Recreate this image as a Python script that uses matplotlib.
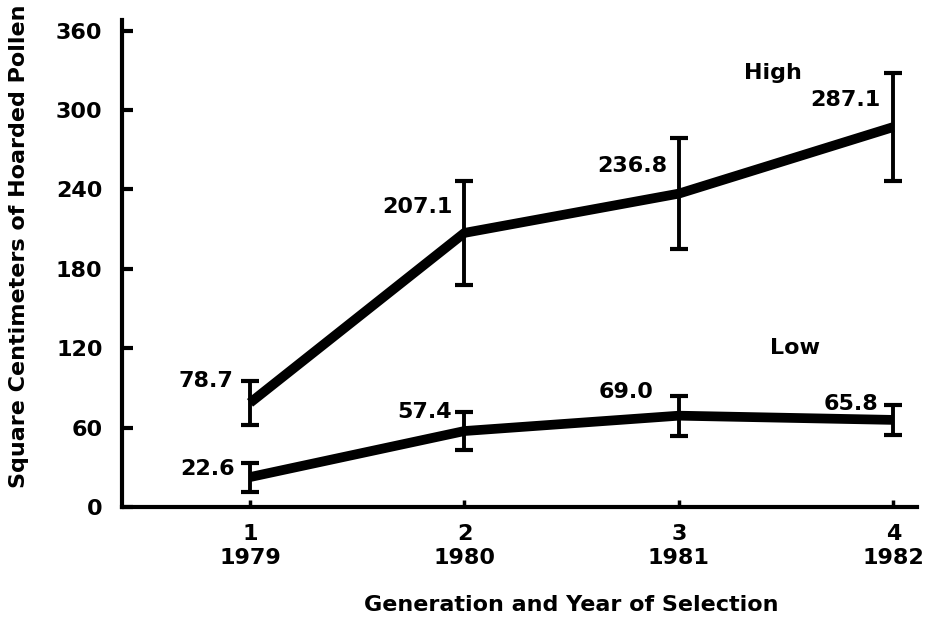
import matplotlib.pyplot as plt

plt.rcParams['font.family'] = ['DejaVu Sans']
plt.rcParams['font.weight'] = 'bold'

# generations / years
generation = [1, 2, 3, 4]
year = [1979, 1980, 1981, 1982]

# High line: means and error half-widths
high_mean = [78.7, 207.1, 236.8, 287.1]
high_err = [16.5, 39.5, 42.0, 41.0]

# Low line
low_mean = [22.6, 57.4, 69.0, 65.8]
low_err = [11.0, 14.0, 15.0, 11.5]

# label offsets in pixels (dx, dy) from each point
high_off = [(-17, 22), (-12, 26), (-12, 28), (-13, 27)]
low_off = [(-15, 8), (-13, 19), (-25, 24), (-15, 16)]

fig = plt.figure(figsize=(9.29, 6.22), dpi=100)
ax = fig.add_axes([0.1313, 0.1849, 0.8557, 0.7830])

for mean, err in [(high_mean, high_err), (low_mean, low_err)]:
    ax.plot(generation, mean, color='black', linewidth=7,
            solid_capstyle='butt', solid_joinstyle='round', zorder=3)
    ax.errorbar(generation, mean, yerr=err, fmt='none', ecolor='black',
                elinewidth=2.8, capsize=6.2, capthick=3, zorder=4)

for vals, offs in [(high_mean, high_off), (low_mean, low_off)]:
    for x, v, (dx, dy) in zip(generation, vals, offs):
        ax.annotate(f'{v:.1f}', xy=(x, v), xytext=(dx, dy),
                    textcoords='offset pixels', ha='right', va='center',
                    fontsize=16)

ax.text(3.44, 328, 'High', ha='center', va='center', fontsize=16)
ax.text(3.54, 120, 'Low', ha='center', va='center', fontsize=16)

ax.set_xlim(0.403, 4.11)
ax.set_ylim(0, 368)
ax.set_yticks([0, 60, 120, 180, 240, 300, 360])
ax.set_xticks(generation)
ax.set_xticklabels([f'{g}\n{y}' for g, y in zip(generation, year)],
                   linespacing=1.2)

for s in ['top', 'right']:
    ax.spines[s].set_visible(False)
for s in ['left', 'bottom']:
    ax.spines[s].set_linewidth(3)

ax.tick_params(axis='y', direction='in', length=8, width=3, pad=14,
               labelsize=16)
ax.tick_params(axis='x', direction='in', length=5, width=2.5, pad=12.5,
               labelsize=16)

ax.set_ylabel('Square Centimeters of Hoarded Pollen', fontsize=16,
              fontweight='bold', va='center')
ax.yaxis.set_label_coords(-0.1296, 0.536)
ax.set_xlabel('Generation and Year of Selection', fontsize=16,
              fontweight='bold', va='center')
ax.xaxis.set_label_coords(0.565, -0.201)

fig.savefig('out.png', dpi=100)
